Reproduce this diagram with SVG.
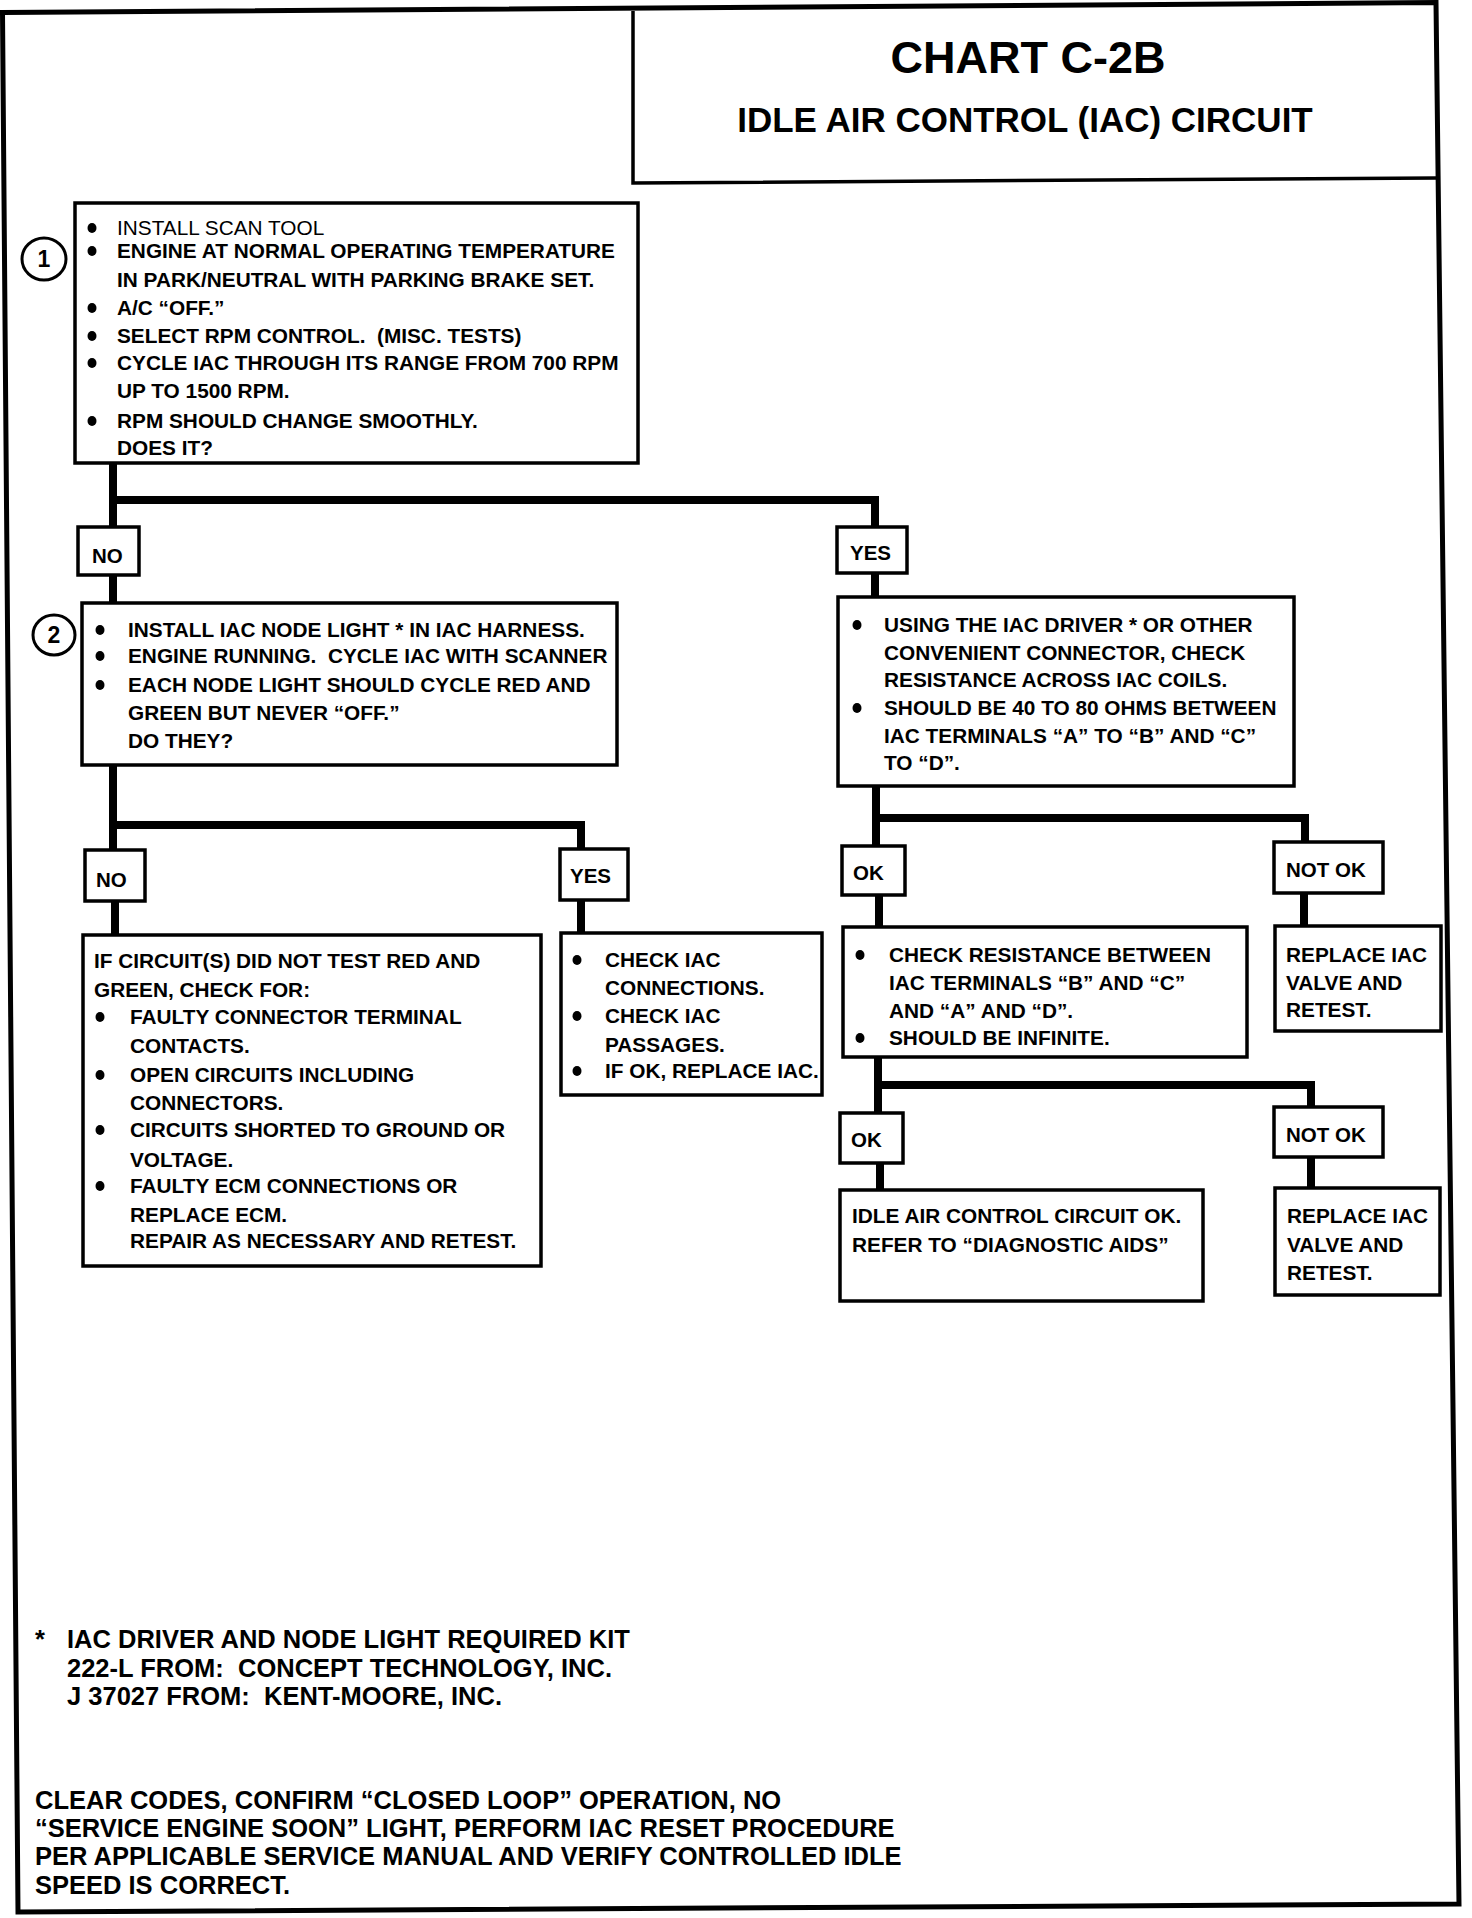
<svg xmlns="http://www.w3.org/2000/svg" width="1472" height="1918" viewBox="0 0 1472 1918">
<style>
.frame{fill:none;stroke:#000;stroke-width:5;stroke-linejoin:miter}
.box{fill:#fff;stroke:#000;stroke-width:3.5}
.conn{fill:none;stroke:#000;stroke-width:8;stroke-linejoin:miter;stroke-linecap:butt}
.t{font-family:"Liberation Sans",Arial,sans-serif;font-weight:bold;font-size:20.8px;fill:#000}
.reg{font-weight:normal}
.lbl{font-family:"Liberation Sans",Arial,sans-serif;font-weight:bold;font-size:20.5px;fill:#000}
.title{font-family:"Liberation Sans",Arial,sans-serif;font-weight:bold;fill:#000;text-anchor:middle}
.foot{font-family:"Liberation Sans",Arial,sans-serif;font-weight:bold;font-size:25.5px;fill:#000}
.num{fill:#fff;stroke:#000;stroke-width:3}
.numt{font-family:"Liberation Sans",Arial,sans-serif;font-weight:bold;font-size:23px;fill:#000;text-anchor:middle}
.b{fill:#000}
</style>
<rect x="0" y="0" width="1472" height="1918" fill="#fff"/>
<g id="frame">
<polygon class="frame" points="2.5,12.5 1436,2.5 1459,1904 18,1912"/>
</g>
<g id="title">
<path class="frame" style="stroke-width:3.5" d="M633,11 V183 L1437,178"/>
<text class="title" x="1028" y="73" font-size="45">CHART C-2B</text>
<text class="title" x="1025" y="132" font-size="35">IDLE AIR CONTROL (IAC) CIRCUIT</text>
</g>
<g id="connectors">
<path class="conn" d="M113,463 V527"/>
<path class="conn" d="M113,500 H875 V527"/>
<path class="conn" d="M113,575 V603"/>
<path class="conn" d="M875,573 V597"/>
<path class="conn" d="M113,765 V850"/>
<path class="conn" d="M113,825 H581 V849"/>
<path class="conn" d="M115,901 V935"/>
<path class="conn" d="M581,900 V933"/>
<path class="conn" d="M876,786 V846"/>
<path class="conn" d="M876,818 H1305 V842"/>
<path class="conn" d="M879,895 V927"/>
<path class="conn" d="M1304,893 V926"/>
<path class="conn" d="M878,1057 V1113"/>
<path class="conn" d="M878,1085 H1311 V1107"/>
<path class="conn" d="M880,1163 V1190"/>
<path class="conn" d="M1311,1157 V1188"/>
</g>
<g id="step1">
<rect class="box" x="75" y="203" width="563" height="260"/>
<ellipse class="num" cx="44" cy="259" rx="22" ry="21"/>
<text class="numt" x="44" y="267">1</text>
<ellipse class="b" cx="92" cy="228" rx="4.5" ry="5"/>
<ellipse class="b" cx="92" cy="251" rx="4.5" ry="5"/>
<ellipse class="b" cx="92" cy="308" rx="4.5" ry="5"/>
<ellipse class="b" cx="92" cy="336" rx="4.5" ry="5"/>
<ellipse class="b" cx="92" cy="363" rx="4.5" ry="5"/>
<ellipse class="b" cx="92" cy="421" rx="4.5" ry="5"/>
<text class="t reg" x="117" y="235">INSTALL SCAN TOOL</text>
<text class="t" x="117" y="258">ENGINE AT NORMAL OPERATING TEMPERATURE</text>
<text class="t" x="117" y="287">IN PARK/NEUTRAL WITH PARKING BRAKE SET.</text>
<text class="t" x="117" y="315">A/C “OFF.”</text>
<text class="t" x="117" y="343" xml:space="preserve">SELECT RPM CONTROL.  (MISC. TESTS)</text>
<text class="t" x="117" y="370">CYCLE IAC THROUGH ITS RANGE FROM 700 RPM</text>
<text class="t" x="117" y="398">UP TO 1500 RPM.</text>
<text class="t" x="117" y="428">RPM SHOULD CHANGE SMOOTHLY.</text>
<text class="t" x="117" y="455">DOES IT?</text>
</g>
<g id="no1">
<rect class="box" x="78" y="527" width="61" height="48"/>
<text class="lbl" x="92" y="563">NO</text>
</g>
<g id="yes1">
<rect class="box" x="837" y="527" width="70" height="46"/>
<text class="lbl" x="850" y="560">YES</text>
</g>
<g id="step2">
<rect class="box" x="82" y="603" width="535" height="162"/>
<ellipse class="num" cx="54" cy="635" rx="21" ry="20"/>
<text class="numt" x="54" y="643">2</text>
<ellipse class="b" cx="100" cy="630" rx="4.5" ry="5"/>
<ellipse class="b" cx="100" cy="656" rx="4.5" ry="5"/>
<ellipse class="b" cx="100" cy="685" rx="4.5" ry="5"/>
<text class="t" x="128" y="637">INSTALL IAC NODE LIGHT * IN IAC HARNESS.</text>
<text class="t" x="128" y="663" xml:space="preserve">ENGINE RUNNING.  CYCLE IAC WITH SCANNER</text>
<text class="t" x="128" y="692">EACH NODE LIGHT SHOULD CYCLE RED AND</text>
<text class="t" x="128" y="720">GREEN BUT NEVER “OFF.”</text>
<text class="t" x="128" y="748">DO THEY?</text>
</g>
<g id="check-coils">
<rect class="box" x="838" y="597" width="456" height="189"/>
<ellipse class="b" cx="857" cy="625" rx="4.5" ry="5"/>
<ellipse class="b" cx="857" cy="708" rx="4.5" ry="5"/>
<text class="t" x="884" y="632">USING THE IAC DRIVER * OR OTHER</text>
<text class="t" x="884" y="660">CONVENIENT CONNECTOR, CHECK</text>
<text class="t" x="884" y="687">RESISTANCE ACROSS IAC COILS.</text>
<text class="t" x="884" y="715">SHOULD BE 40 TO 80 OHMS BETWEEN</text>
<text class="t" x="884" y="743">IAC TERMINALS “A” TO “B” AND “C”</text>
<text class="t" x="884" y="770">TO “D”.</text>
</g>
<g id="no2">
<rect class="box" x="85" y="850" width="60" height="51"/>
<text class="lbl" x="96" y="887">NO</text>
</g>
<g id="yes2">
<rect class="box" x="560" y="849" width="68" height="51"/>
<text class="lbl" x="570" y="883">YES</text>
</g>
<g id="circuit-check">
<rect class="box" x="83" y="935" width="458" height="331"/>
<ellipse class="b" cx="100" cy="1017" rx="4.5" ry="5"/>
<ellipse class="b" cx="100" cy="1075" rx="4.5" ry="5"/>
<ellipse class="b" cx="100" cy="1130" rx="4.5" ry="5"/>
<ellipse class="b" cx="100" cy="1186" rx="4.5" ry="5"/>
<text class="t" x="94" y="968">IF CIRCUIT(S) DID NOT TEST RED AND</text>
<text class="t" x="94" y="997">GREEN, CHECK FOR:</text>
<text class="t" x="130" y="1024">FAULTY CONNECTOR TERMINAL</text>
<text class="t" x="130" y="1053">CONTACTS.</text>
<text class="t" x="130" y="1082">OPEN CIRCUITS INCLUDING</text>
<text class="t" x="130" y="1110">CONNECTORS.</text>
<text class="t" x="130" y="1137">CIRCUITS SHORTED TO GROUND OR</text>
<text class="t" x="130" y="1167">VOLTAGE.</text>
<text class="t" x="130" y="1193">FAULTY ECM CONNECTIONS OR</text>
<text class="t" x="130" y="1222">REPLACE ECM.</text>
<text class="t" x="130" y="1248">REPAIR AS NECESSARY AND RETEST.</text>
</g>
<g id="check-iac">
<rect class="box" x="561" y="933" width="261" height="162"/>
<ellipse class="b" cx="577" cy="960" rx="4.5" ry="5"/>
<ellipse class="b" cx="577" cy="1016" rx="4.5" ry="5"/>
<ellipse class="b" cx="577" cy="1071" rx="4.5" ry="5"/>
<text class="t" x="605" y="967">CHECK IAC</text>
<text class="t" x="605" y="995">CONNECTIONS.</text>
<text class="t" x="605" y="1023">CHECK IAC</text>
<text class="t" x="605" y="1052">PASSAGES.</text>
<text class="t" x="605" y="1078">IF OK, REPLACE IAC.</text>
</g>
<g id="ok1">
<rect class="box" x="842" y="846" width="63" height="49"/>
<text class="lbl" x="853" y="880">OK</text>
</g>
<g id="notok1">
<rect class="box" x="1274" y="842" width="109" height="51"/>
<text class="lbl" x="1286" y="877">NOT OK</text>
</g>
<g id="check-infinite">
<rect class="box" x="843" y="927" width="404" height="130"/>
<ellipse class="b" cx="860" cy="955" rx="4.5" ry="5"/>
<ellipse class="b" cx="860" cy="1038" rx="4.5" ry="5"/>
<text class="t" x="889" y="962">CHECK RESISTANCE BETWEEN</text>
<text class="t" x="889" y="990">IAC TERMINALS “B” AND “C”</text>
<text class="t" x="889" y="1018">AND “A” AND “D”.</text>
<text class="t" x="889" y="1045">SHOULD BE INFINITE.</text>
</g>
<g id="replace1">
<rect class="box" x="1275" y="926" width="166" height="105"/>
<text class="t" x="1286" y="962">REPLACE IAC</text>
<text class="t" x="1286" y="990">VALVE AND</text>
<text class="t" x="1286" y="1017">RETEST.</text>
</g>
<g id="ok2">
<rect class="box" x="840" y="1113" width="63" height="50"/>
<text class="lbl" x="851" y="1147">OK</text>
</g>
<g id="notok2">
<rect class="box" x="1274" y="1107" width="109" height="50"/>
<text class="lbl" x="1286" y="1142">NOT OK</text>
</g>
<g id="circuit-ok">
<rect class="box" x="840" y="1190" width="363" height="111"/>
<text class="t" x="852" y="1223">IDLE AIR CONTROL CIRCUIT OK.</text>
<text class="t" x="852" y="1252">REFER TO “DIAGNOSTIC AIDS”</text>
</g>
<g id="replace2">
<rect class="box" x="1275" y="1188" width="165" height="107"/>
<text class="t" x="1287" y="1223">REPLACE IAC</text>
<text class="t" x="1287" y="1252">VALVE AND</text>
<text class="t" x="1287" y="1280">RETEST.</text>
</g>
<g id="footnote">
<text class="foot" x="35" y="1648">*</text>
<text class="foot" x="67" y="1648">IAC DRIVER AND NODE LIGHT REQUIRED KIT</text>
<text class="foot" x="67" y="1677" xml:space="preserve">222-L FROM:  CONCEPT TECHNOLOGY, INC.</text>
<text class="foot" x="67" y="1705" xml:space="preserve">J 37027 FROM:  KENT-MOORE, INC.</text>
</g>
<g id="closing-note">
<text class="foot" x="35" y="1809">CLEAR CODES, CONFIRM “CLOSED LOOP” OPERATION, NO</text>
<text class="foot" x="35" y="1837">“SERVICE ENGINE SOON” LIGHT, PERFORM IAC RESET PROCEDURE</text>
<text class="foot" x="35" y="1865">PER APPLICABLE SERVICE MANUAL AND VERIFY CONTROLLED IDLE</text>
<text class="foot" x="35" y="1894">SPEED IS CORRECT.</text>
</g>
</svg>
